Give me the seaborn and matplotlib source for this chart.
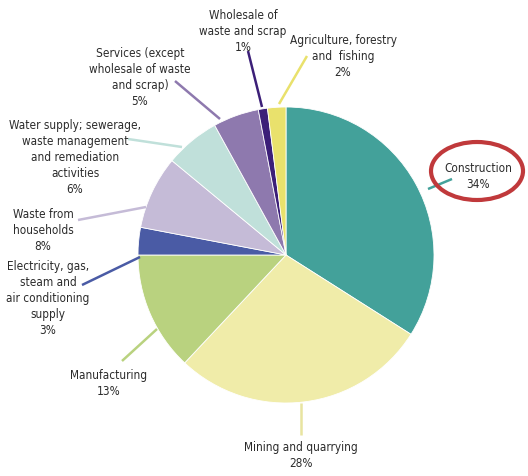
import matplotlib
matplotlib.use("Agg")
import matplotlib.pyplot as plt
from matplotlib.patches import Ellipse
import seaborn as sns

sectors = ["Construction", "Mining and quarrying", "Manufacturing",
           "Electricity, gas,\nsteam and\nair conditioning\nsupply",
           "Waste from\nhouseholds",
           "Water supply; sewerage,\nwaste management\nand remediation\nactivities",
           "Services (except\nwholesale of waste\nand scrap)",
           "Wholesale of\nwaste and scrap",
           "Agriculture, forestry\nand  fishing"]
shares = [34, 28, 13, 3, 8, 6, 5, 1, 2]
colors = ["#43a19a", "#f0eca9", "#b9d27f", "#4a5ba5", "#c5bbd7",
          "#c0e0da", "#8e79ae", "#3c1f78", "#e9e16c"]

sns.set_theme(style="white")
plt.rcParams['font.family'] = ['DejaVu Sans']

W, H = 528, 477
fig = plt.figure(figsize=(W / 100, H / 100), dpi=100)
ax = fig.add_axes([0, 0, 1, 1])

cx, cy, r = 286, H - 256, 148
ax.pie(shares, colors=colors, startangle=90, counterclock=False,
       center=(cx, cy), radius=r, wedgeprops=dict(linewidth=0.6, edgecolor="white"),
       frame=True)
ax.set_xlim(0, W)
ax.set_ylim(0, H)
ax.set_aspect("equal")
ax.axis("off")

# label positions (image coords): text center x, top line y; leader line start/end
label_pos = [
    (478, 162, (452, 180), (428, 190)),
    (301, 441, (301, 436), (301, 404)),
    (109, 369, (122, 362), (157, 330)),
    (48, 260, (82, 286), (140, 258)),
    (43, 208, (78, 221), (146, 208)),
    (75, 119, (128, 140), (182, 148)),
    (140, 47, (175, 82), (220, 120)),
    (243, 9, (248, 52), (262, 108)),
    (343, 34, (307, 57), (279, 105)),
]
line_colors = ["#43a19a", "#e8e4a0", "#b9d27f", "#4a5ba5", "#c5bbd7",
               "#c0e0da", "#8e79ae", "#3c1f78", "#e9e16c"]

for name, val, (tx, ty, p0, p1), lc in zip(sectors, shares, label_pos, line_colors):
    ax.plot([p0[0], p1[0]], [H - p0[1], H - p1[1]], color=lc, lw=1.8,
            solid_capstyle="butt", zorder=1)
    ax.text(tx, H - ty, f"{name}\n{val}%", ha="center", va="top",
            fontsize=8.5, fontstretch="condensed", color="#2b2b2b", linespacing=1.3)

ax.add_patch(Ellipse((477, H - 172), 92, 58, fill=False, edgecolor="#c0393b", lw=3))

fig.savefig("out.png", dpi=100, facecolor="white")
